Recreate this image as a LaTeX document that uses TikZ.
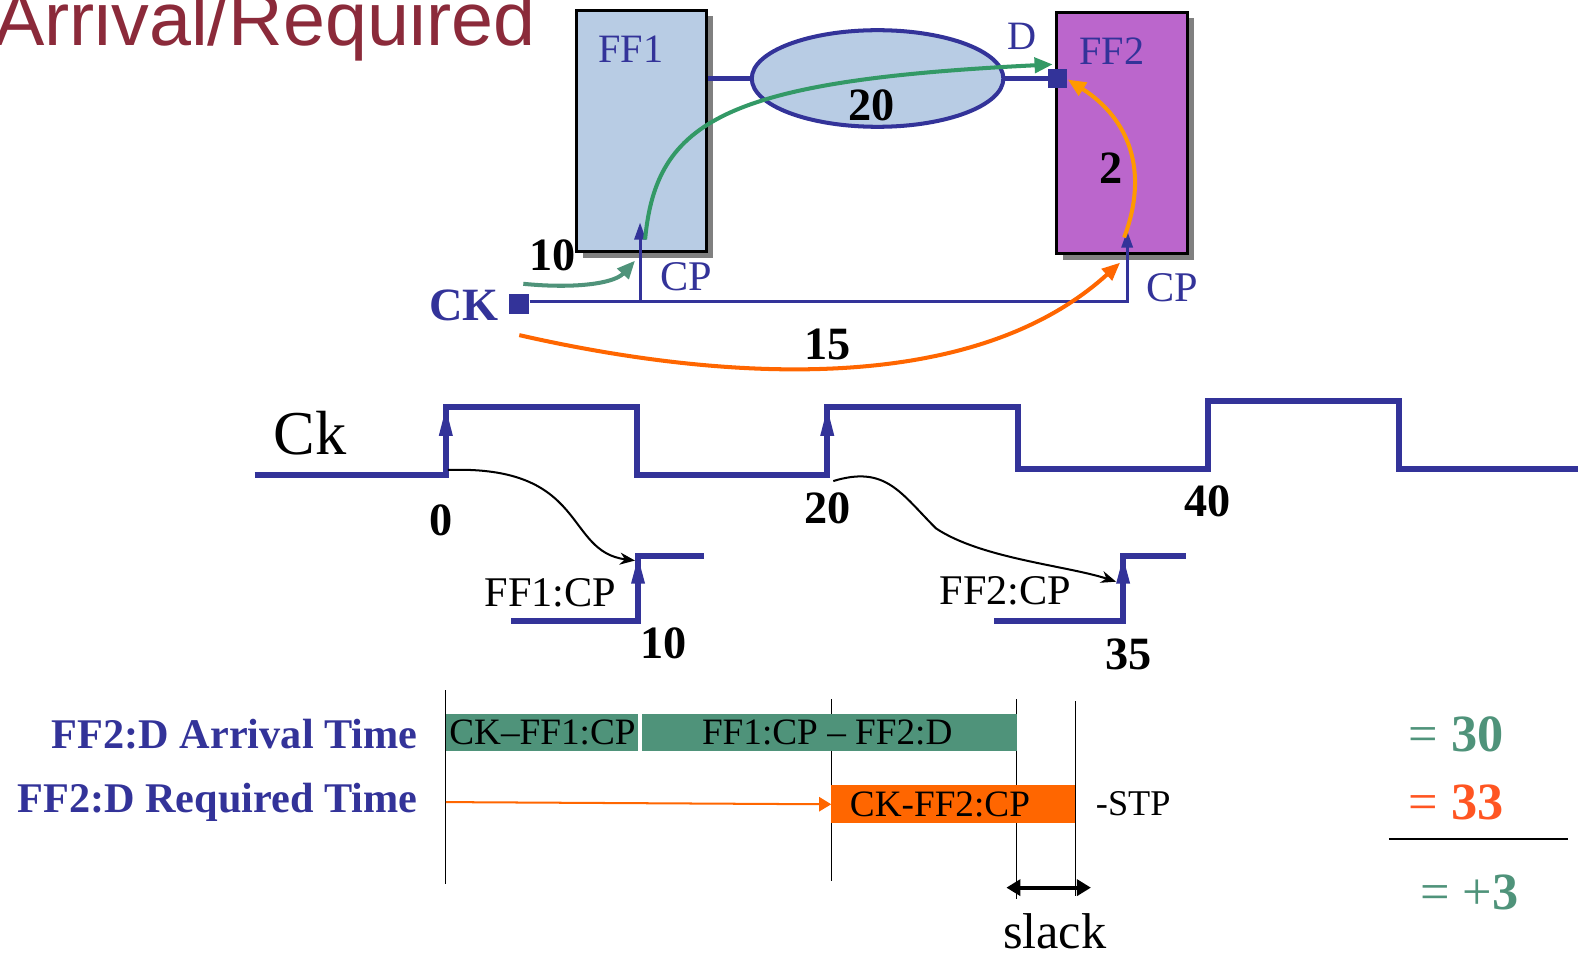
\documentclass[tikz,border=0pt]{standalone}
\usepackage{fontspec}
\setmainfont{Liberation Serif}
\newfontfamily\titlefont{Liberation Sans}
\usetikzlibrary{arrows.meta,shapes.geometric,shadows}
\newcommand\myfs[1]{\fontsize{#1}{#1}\selectfont}
\definecolor{cblue}{HTML}{333399}
\definecolor{cfill}{HTML}{B8CCE4}
\definecolor{cpurple}{HTML}{BB66CC}
\definecolor{cgreen}{HTML}{339966}
\definecolor{cbar}{HTML}{4F937A}
\definecolor{corange}{HTML}{FF6600}
\definecolor{clorange}{HTML}{FF9900}
\definecolor{cred}{HTML}{FF5522}
\definecolor{ctitle}{HTML}{8B2A3A}
\tikzset{
  ffbox/.style={draw=black, line width=3pt, inner sep=0pt,
    drop shadow={shadow xshift=6pt, shadow yshift=-6pt, fill=black!50, opacity=1}},
  bluetxt/.style={inner sep=0pt, anchor=base, text=cblue, font=\myfs{40}},
  numtxt/.style={inner sep=0pt, anchor=base, font=\bfseries\myfs{46}},
  cptxt/.style={inner sep=0pt, anchor=base, font=\myfs{42}},
  bartxt/.style={inner sep=0pt, anchor=base, font=\myfs{37}},
  sidetxt/.style={inner sep=0pt, anchor=base east, text=cblue, font=\bfseries\myfs{42}},
  restxt/.style={inner sep=0pt, anchor=base, font=\myfs{52}},
  wire/.style={draw=cblue, line width=3pt},
  wiretip/.style={-{Triangle[length=17pt,width=11pt]}},
  pin/.style={fill=cblue, inner sep=0pt, minimum size=20pt},
  wave/.style={draw=cblue, line width=6pt, line join=miter},
  curvearrow/.style={line width=4pt, -{Triangle[length=18pt,width=15pt]}},
  blackarrow/.style={draw=black, line width=2pt, -{Stealth[length=15pt,width=12pt]}},
  vline/.style={draw=black, line width=1.3pt},
}
\begin{document}
\begin{tikzpicture}[x=1pt,y=-1pt]
\useasboundingbox (0,0) rectangle (1568,950);

% title
\node[anchor=base west, inner sep=0pt, text=ctitle, font=\titlefont\myfs{75}] (title) at (-6,45) {Arrival/Required};

% flip-flops
\node[ffbox, fill=cfill, minimum width=129pt, minimum height=240pt] (ff1) at (637.5,130) {};
\node[ffbox, fill=cpurple, minimum width=130pt, minimum height=240pt] (ff2) at (1115,132) {};
\node[bluetxt] (ff1l) at (627,62) {FF1};
\node[bluetxt] (ff2l) at (1105,64) {FF2};
\node[bluetxt] (dl) at (1016,49) {D};

% combinational logic
\node[ellipse, draw=cblue, line width=4pt, fill=cfill, minimum width=250pt, minimum height=96pt, inner sep=0pt] (comb) at (872,78) {};
\node[pin, minimum size=19pt] (dpin) at (1051,78) {};
\draw[wire, line width=4pt] (ff1.east |- comb.west) -- (comb.west);
\draw[wire, line width=4pt] (comb.east) -- (dpin.west);
\node[numtxt] (n20a) at (866,120) {20};

% clock wiring
\node[pin] (ckpin) at (516,302) {};
\node[inner sep=0pt, anchor=base, text=cblue, font=\bfseries\myfs{46}] (ckl) at (461,318) {CK};
\coordinate (j1) at (636,300);
\coordinate (j2) at (1120,300);
\coordinate (cp1) at (636,221);
\coordinate (cp2) at (1120,229);
\draw[wire, wiretip] (ckpin.east |- j2) -- (j2) -- (cp2);
\draw[wire, wiretip] (j1) -- (cp1);
\node[bluetxt, font=\myfs{42}] (cp1l) at (682,289) {CP};
\node[bluetxt, font=\myfs{42}] (cp2l) at (1165,300) {CP};

% delay arrows
\coordinate (g1s) at (520,282);
\coordinate (g1e) at (631,259);
\draw[curvearrow, cbar] (g1s) .. controls (570,287) and (610,282) .. (g1e);
\node[numtxt] (n10a) at (549,269) {10};

\coordinate (g2s) at (641,238);
\coordinate (g2e) at (1046,64);
\draw[curvearrow, cgreen] (g2s) .. controls (652,120) and (720,80) .. (g2e);

\coordinate (o1s) at (516,333);
\coordinate (o1e) at (1113,261);
\draw[curvearrow, corange] (o1s) .. controls (700,375) and (960,400) .. (o1e);
\node[numtxt] (n15) at (822,357) {15};

\coordinate (o2s) at (1117,236);
\coordinate (o2e) at (1061,79);
\draw[curvearrow, clorange] (o2s) .. controls (1142,170) and (1122,118) .. (o2e);
\node[numtxt] (n2) at (1104,182) {2};

% clock waveform
\node[inner sep=0pt, anchor=base, font=\myfs{62}] (ckw) at (308,452) {Ck};
\draw[wave] (253,472) -- (443,472) -- (443,404) -- (633,404) -- (633,472) -- (822,472) -- (822,404)
  -- (1012,404) -- (1012,466) -- (1200,466) -- (1200,398) -- (1390,398) -- (1390,466) -- (1572,466);
\fill[cblue] (443,406) -- (436,433) -- (450,433) -- cycle;
\fill[cblue] (822,406) -- (815,433) -- (829,433) -- cycle;
\node[numtxt] (t0) at (438,532) {0};
\node[numtxt] (t20) at (822,520) {20};
\node[numtxt] (t40) at (1200,513) {40};

% FF1:CP waveform
\draw[wave] (508,617) -- (634,617) -- (634,552) -- (700,552);
\fill[cblue] (634,554) -- (627,580) -- (641,580) -- cycle;
\node[cptxt] (ff1cp) at (547,603) {FF1:CP};
\node[numtxt] (t10) at (659,654) {10};
% FF2:CP waveform
\draw[wave] (988,617) -- (1116,617) -- (1116,552) -- (1178,552);
\fill[cblue] (1116,554) -- (1109,580) -- (1123,580) -- cycle;
\node[cptxt] (ff2cp) at (999,601) {FF2:CP};
\node[numtxt] (t35) at (1121,665) {35};

\coordinate (b1s) at (445,467);
\coordinate (b1e) at (631,557);
\draw[blackarrow] (b1s) .. controls (585,462) and (560,548) .. (b1e);
\coordinate (b2s) at (828,478);
\coordinate (b2e) at (1109,578);
\draw[blackarrow] (b2s) .. controls (880,462) and (895,490) .. (930,525) .. controls (975,555) and (1060,562) .. (b2e);

% timing bars
\draw[vline] (443,686) -- (443,878);
\draw[vline] (826,695) -- (826,875);
\draw[vline] (1010,695) -- (1010,893);
\draw[vline] (1069,697) -- (1069,890);
\node[fill=cbar, inner sep=0pt, minimum width=191pt, minimum height=37pt, anchor=north west] (bar1) at (443,709) {};
\node[fill=cbar, inner sep=0pt, minimum width=372pt, minimum height=37pt, anchor=north west] (bar2) at (638,709) {};
\node[bartxt] (bar1t) at (539,740) {CK\textendash FF1:CP};
\node[bartxt] (bar2t) at (822,740) {FF1:CP \textendash{} FF2:D};
\node[fill=corange, inner sep=0pt, minimum width=242pt, minimum height=38pt, anchor=north west] (bar3) at (826,780) {};
\node[bartxt] (bar3t) at (934,811) {CK-FF2:CP};
\node[bartxt, font=\myfs{36}] (stp) at (1126,810) {-STP};
\coordinate (reqs) at (443,797);
\draw[draw=corange, line width=2pt, -{Triangle[length=12pt,width=14pt]}] (reqs) -- (bar3.west);

\node[sidetxt] (arr) at (415,744) {FF2:D Arrival Time};
\node[sidetxt] (req) at (415,807) {FF2:D Required Time};

% slack
\coordinate (sl1) at (1000,882);
\coordinate (sl2) at (1084,882);
\draw[line width=4pt, {Triangle[length=14pt,width=16pt]}-{Triangle[length=14pt,width=16pt]}] (sl1) -- (sl2);
\node[inner sep=0pt, anchor=base, font=\myfs{50}] (slack) at (1048,942) {slack};

% results
\node[restxt, text=cbar] (r30) at (1447,747) {= \textbf{30}};
\node[restxt, text=cred] (r33) at (1447,814) {= \textbf{33}};
\coordinate (rl1) at (1380,834);
\coordinate (rl2) at (1558,834);
\draw[line width=2pt] (rl1) -- (rl2);
\node[restxt, text=cbar] (r3) at (1460,904) {= +\textbf{3}};
\end{tikzpicture}
\end{document}
